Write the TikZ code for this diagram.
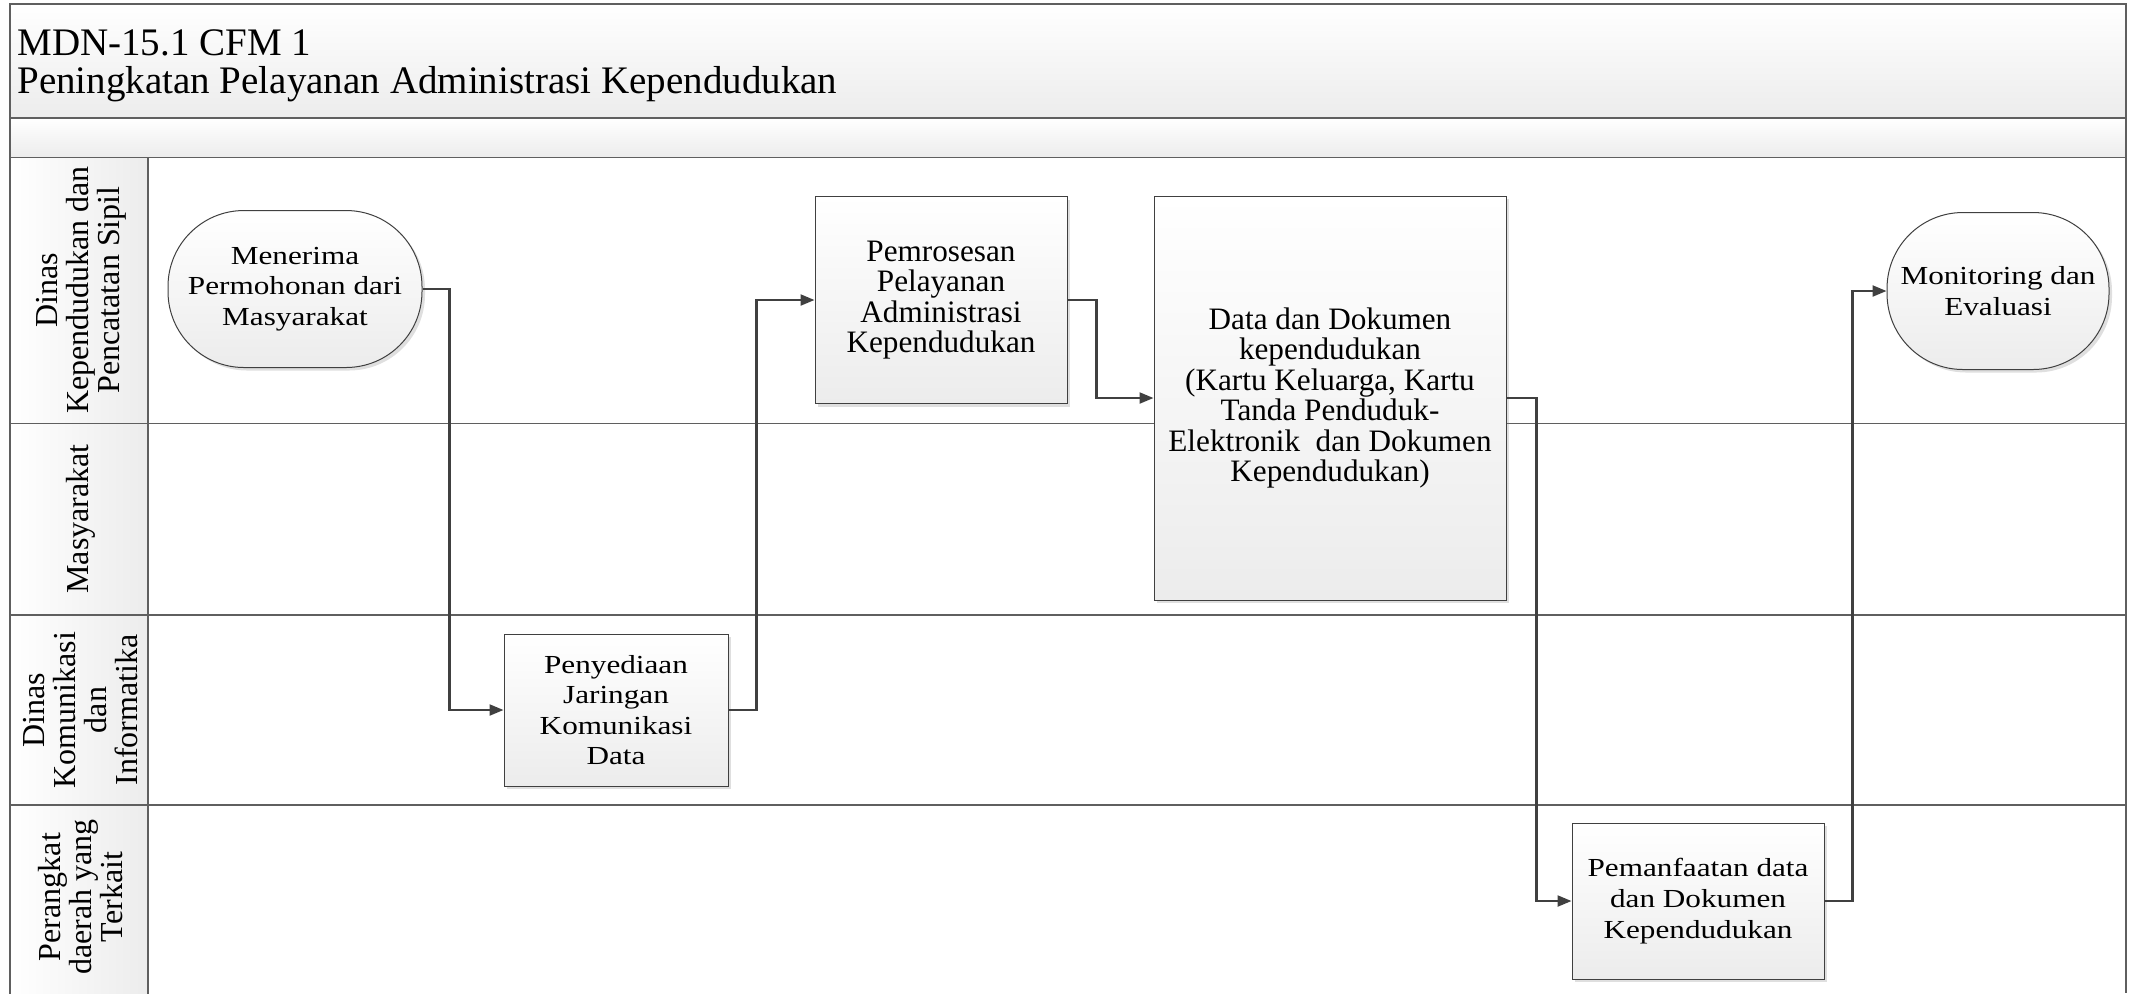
\documentclass[tikz,border=0pt]{standalone}
\usepackage{fontspec}
\setmainfont{Liberation Serif}
\newfontfamily\wideserif[FakeStretch=1.2]{Liberation Serif}
\usepackage{tikz}
\usetikzlibrary{
  arrows.meta,
  positioning,
  shadows
}
\definecolor{linegray}{RGB}{64,64,64}
\definecolor{framegray}{RGB}{95,95,95}
\definecolor{shadegray}{RGB}{236,236,236}
\tikzset{
  procbox/.style={draw=linegray, line width=0.5pt,
    top color=white, bottom color=shadegray,
    drop shadow={shadow xshift=1.5pt, shadow yshift=-1.5pt, opacity=0.25},
    align=center, inner sep=2pt, font=\fontsize{15.6}{15.2}\selectfont},
  widebox/.style={procbox, font=\wideserif\fontsize{13}{15.3}\selectfont},
  termbox/.style={widebox, rounded corners=38pt},
  lanehead/.style={draw=framegray, line width=0.6pt,
    left color=white, right color=shadegray},
  lanetext/.style={rotate=90, align=center,
    font=\fontsize{16}{15.5}\selectfont},
  band/.style={draw=framegray, line width=0.8pt,
    top color=white, bottom color=shadegray},
  flow/.style={draw=linegray, line width=1.1pt,
    -{Triangle[length=7pt, width=5.5pt]}},
}

\begin{document}
\begin{tikzpicture}[x=0.5pt, y=-0.5pt]
  \useasboundingbox (0,0) rectangle (2129,993);

  % Title bands
  \draw[band] (10,4) rectangle (2126,118);
  \draw[band] (10,118) rectangle (2126,157.5);
  \node[anchor=north west, inner sep=0pt, align=left,
        font=\fontsize{19.5}{19}\selectfont] (title) at (17,29)
    {MDN-15.1 CFM 1\\Peningkatan Pelayanan Administrasi Kependudukan};

  % Lane heads
  \foreach \t/\b in {157.5/423.6, 423.6/615, 615/805, 805/1000}
    \draw[lanehead] (10,\t) rectangle (148,\b);
  \foreach \y in {423.6, 615, 805}
    \draw[framegray, line width=0.6pt] (148,\y) -- (2126,\y);
  \draw[framegray, line width=1.4pt] (2126,4) -- (2126,993);

  \node[lanetext] (laneA) at (81,290)
    {Dinas\\Kependudukan dan\\Pencatatan Sipil};
  \node[lanetext] (laneB) at (81,519) {Masyarakat};
  \node[lanetext] (laneC) at (81,710)
    {Dinas\\Komunikasi\\dan\\Informatika};
  \node[lanetext] (laneD) at (81,897)
    {Perangkat\\daerah yang\\Terkait};

  % Process nodes
  \node[termbox, minimum width=127pt, minimum height=78.5pt] (recv)
    at (295,289) {Menerima\\Permohonan dari\\Masyarakat};
  \node[widebox, minimum width=112pt, minimum height=76pt] (net)
    at (616,710) {Penyediaan\\Jaringan\\Komunikasi\\Data};
  \node[procbox, minimum width=126pt, minimum height=103.5pt] (proc)
    at (941,300) {Pemrosesan\\Pelayanan\\Administrasi\\Kependudukan};
  \node[procbox, minimum width=176pt, minimum height=202pt] (docs)
    at (1330,398) {Data dan Dokumen\\kependudukan\\(Kartu Keluarga, Kartu\\Tanda Penduduk-\\Elektronik\ \ dan Dokumen\\Kependudukan)};
  \node[widebox, minimum width=126pt, minimum height=78pt] (use)
    at (1698,901) {Pemanfaatan data\\dan Dokumen\\Kependudukan};
  \node[termbox, minimum width=111pt, minimum height=78.5pt] (mon)
    at (1998,291) {Monitoring dan\\Evaluasi};

  % Connectors
  \draw[flow] (recv.east) -- ++(27,0) |- (net.west);
  \draw[flow] (net.east) -- ++(28,0) |- (proc.west);
  \draw[flow] (proc.east) -- ++(29,0) |- (docs.west);
  \draw[flow] (docs.east) -- ++(30,0) |- (use.west);
  \draw[flow] (use.east) -- ++(28,0) |- (mon.west);
\end{tikzpicture}
\end{document}
